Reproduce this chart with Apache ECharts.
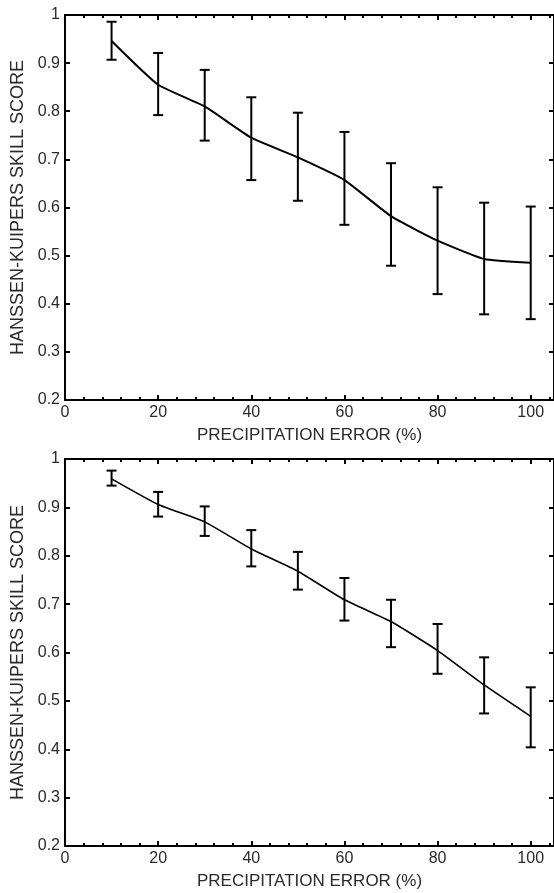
<!DOCTYPE html>
<html>
<head>
<meta charset="utf-8">
<script src="https://cdn.jsdelivr.net/npm/echarts@6/dist/echarts.min.js"></script>
<style>
  html, body { margin: 0; padding: 0; background: #fff; overflow: hidden; }
  #chart { width: 554px; height: 893px; }
</style>
</head>
<body>
<div id="chart"></div>
<script>
// precipitation error (%)
var errX = [10, 20, 30, 40, 50, 60, 70, 80, 90, 100];

// upper panel
var topMean  = [0.946, 0.855, 0.810, 0.745, 0.704, 0.657, 0.582, 0.531, 0.493, 0.485];
var topUpper = [0.986, 0.921, 0.886, 0.829, 0.797, 0.757, 0.692, 0.642, 0.610, 0.602];
var topLower = [0.907, 0.792, 0.739, 0.657, 0.614, 0.564, 0.479, 0.420, 0.378, 0.368];

// lower panel
var botMean  = [0.959, 0.906, 0.870, 0.814, 0.768, 0.709, 0.664, 0.604, 0.533, 0.468];
var botUpper = [0.976, 0.932, 0.902, 0.853, 0.808, 0.754, 0.709, 0.659, 0.590, 0.528];
var botLower = [0.945, 0.881, 0.841, 0.778, 0.730, 0.666, 0.611, 0.556, 0.474, 0.404];

var xName = 'PRECIPITATION ERROR (%)';
var yName = 'HANSSEN-KUIPERS SKILL SCORE';

var font = 'Liberation Sans, Arial, sans-serif';
var txt = '#2a2a2a';

function pairs(xs, ys) {
    return xs.map(function (x, i) { return [x, ys[i]]; });
}
function bars(xs, lo, hi) {
    return xs.map(function (x, i) { return [x, lo[i], hi[i]]; });
}

// error bar with caps
function renderBar(params, api) {
    var x = api.value(0);
    var top = api.coord([x, api.value(2)]);
    var bot = api.coord([x, api.value(1)]);
    var w = 5;
    var st = { stroke: '#000', lineWidth: 2 };
    return {
        type: 'group',
        children: [
            { type: 'line', shape: { x1: top[0], y1: top[1], x2: bot[0], y2: bot[1] }, style: st },
            { type: 'line', shape: { x1: top[0] - w, y1: top[1], x2: top[0] + w, y2: top[1] }, style: st },
            { type: 'line', shape: { x1: bot[0] - w, y1: bot[1], x2: bot[0] + w, y2: bot[1] }, style: st }
        ]
    };
}

function xAxes(gi) {
    var line = { show: true, onZero: false, lineStyle: { color: '#000', width: 2 } };
    return [
        {
            type: 'value', gridIndex: gi, position: 'bottom', min: 0, max: 105, interval: 20,
            name: xName, nameLocation: 'middle', nameGap: 27,
            nameTextStyle: { fontFamily: font, fontSize: 17, color: txt },
            axisLine: line,
            axisTick: { inside: true, length: 5, lineStyle: { color: '#000', width: 2 } },
            minorTick: { show: true, splitNumber: 5, length: 3, lineStyle: { color: '#000', width: 2 } },
            axisLabel: { fontFamily: font, fontSize: 16, color: txt, margin: 5, showMaxLabel: false },
            splitLine: { show: false }
        },
        {
            type: 'value', gridIndex: gi, position: 'top', min: 0, max: 105, interval: 20,
            axisLine: line,
            axisTick: { inside: true, length: 5, lineStyle: { color: '#000', width: 2 } },
            minorTick: { show: true, splitNumber: 5, length: 3, lineStyle: { color: '#000', width: 2 } },
            axisLabel: { show: false },
            splitLine: { show: false }
        }
    ];
}

function yAxes(gi) {
    var line = { show: true, onZero: false, lineStyle: { color: '#000', width: 2 } };
    return [
        {
            type: 'value', gridIndex: gi, position: 'left', min: 0.2, max: 1, interval: 0.1,
            name: yName, nameLocation: 'middle', nameGap: 37,
            nameTextStyle: { fontFamily: font, fontSize: 18, color: txt },
            axisLine: line,
            axisTick: { inside: true, length: 5, lineStyle: { color: '#000', width: 2 } },
            axisLabel: { fontFamily: font, fontSize: 16, color: txt, margin: 5 },
            splitLine: { show: false }
        },
        {
            type: 'value', gridIndex: gi, position: 'right', min: 0.2, max: 1, interval: 0.1,
            axisLine: line,
            axisTick: { inside: true, length: 5, lineStyle: { color: '#000', width: 2 } },
            axisLabel: { show: false },
            splitLine: { show: false }
        }
    ];
}

var option = {
    animation: false,
    backgroundColor: '#fff',
    grid: [
        { left: 65, top: 15, width: 490, height: 385 },
        { left: 65, top: 459, width: 490, height: 387 }
    ],
    xAxis: xAxes(0).concat(xAxes(1)),
    yAxis: yAxes(0).concat(yAxes(1)),
    series: [
        {
            type: 'line', xAxisIndex: 0, yAxisIndex: 0, data: pairs(errX, topMean),
            smooth: 0.15, showSymbol: false, lineStyle: { color: '#000', width: 2 }
        },
        {
            type: 'custom', xAxisIndex: 0, yAxisIndex: 0, renderItem: renderBar,
            data: bars(errX, topLower, topUpper)
        },
        {
            type: 'line', xAxisIndex: 2, yAxisIndex: 2, data: pairs(errX, botMean),
            smooth: 0.15, showSymbol: false, lineStyle: { color: '#000', width: 1.6 }
        },
        {
            type: 'custom', xAxisIndex: 2, yAxisIndex: 2, renderItem: renderBar,
            data: bars(errX, botLower, botUpper)
        }
    ]
};

var chart = echarts.init(document.getElementById('chart'));
chart.setOption(option);
</script>
</body>
</html>
